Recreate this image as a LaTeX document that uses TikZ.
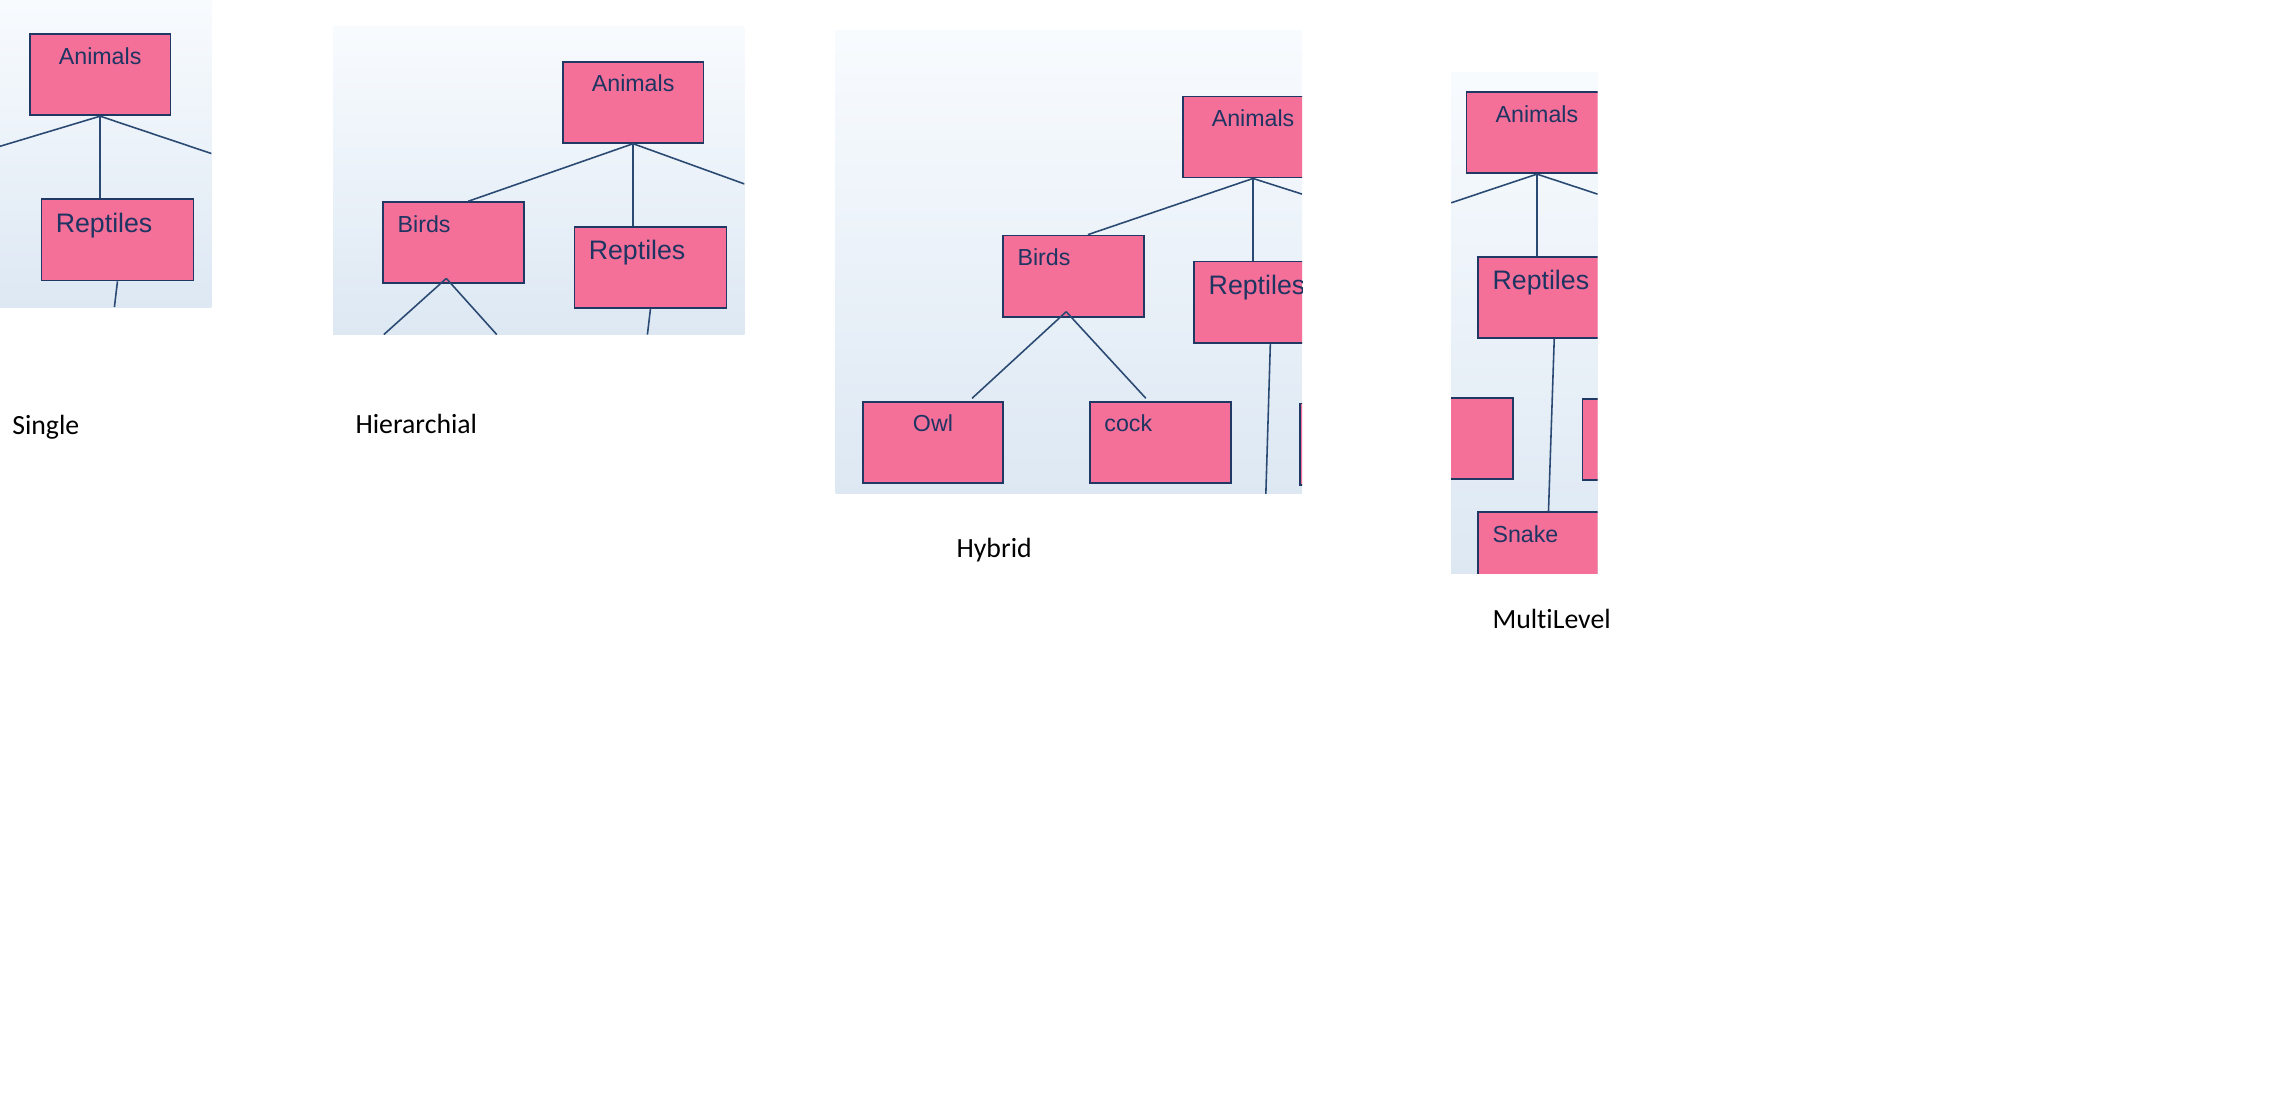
\documentclass[tikz,border=0pt]{standalone}
\usepackage{fontspec}
\usetikzlibrary{positioning,calc}
\newfontfamily\arialfont{Liberation Sans}
\newfontfamily\calfont[Ligatures=NoCommon]{Carlito}
\definecolor{boxpink}{RGB}{245,112,152}
\definecolor{boxline}{RGB}{31,56,100}
\definecolor{boxtext}{RGB}{30,52,98}
\definecolor{linkblue}{RGB}{43,74,115}
\definecolor{bgtop}{RGB}{248,251,254}
\definecolor{bgbot}{RGB}{221,232,243}
\tikzstyle{animalbox} = [draw=boxline, fill=boxpink, line width=0.5pt, inner sep=0pt, anchor=north west, minimum width=40pt, minimum height=23.07pt, text height=8.5pt, text depth=14.57pt, font=\arialfont\fontsize{6.6}{8}\selectfont, text=boxtext]
\tikzstyle{leftbox} = [animalbox, inner xsep=4.1pt, text width=31.8pt, align=left]
\tikzstyle{bigbox} = [leftbox, minimum width=43.26pt, text width=35.06pt, text height=9.3pt, text depth=13.77pt, font=\arialfont\fontsize{7.6}{9}\selectfont]
\tikzstyle{link} = [draw=linkblue, line width=0.45pt]
\tikzstyle{panelbg} = [top color=bgtop, bottom color=bgbot, draw=none]
\tikzstyle{caption} = [anchor=west, inner sep=0pt, font=\calfont\fontsize{7.9}{9.5}\selectfont]
\begin{document}
\begin{tikzpicture}[x=0.014483cm,y=-0.014483cm]
      \useasboundingbox (0,0) rectangle (1568,769);
      % Single
      \begin{scope}
      \clip (0,0) rectangle (146,212);
      \shade[panelbg] (0,0) rectangle (146,212);
      \node[animalbox] (sAnimals) at (20,23) {Animals};
      \node[bigbox] (sReptiles) at (28,137) {Reptiles};
      \coordinate (sL) at (0,101);
      \coordinate (sR) at (146,106);
      \coordinate (sD) at (79,212);
      \draw[link] (sAnimals.south)--(sL);
      \draw[link] (sAnimals.south)--(sR);
      \draw[link] (sAnimals.south)--(sAnimals.south |- sReptiles.north);
      \draw[link] (sReptiles.south)--(sD);
      \end{scope}
      % Hierarchial
      \begin{scope}
      \clip (230,18) rectangle (514,231);
      \shade[panelbg] (230,18) rectangle (514,231);
      \node[animalbox] (hAnimals) at (388,42) {Animals};
      \node[leftbox] (hBirds) at (264,139) {Birds};
      \node[bigbox] (hReptiles) at (396,156) {Reptiles};
      \coordinate (hR) at (514,127);
      \coordinate (hBL) at (265,231);
      \coordinate (hBR) at (343,231);
      \coordinate (hD) at (447,231);
      \draw[link] (hAnimals.south)--($(hBirds.north)+(10,0)$);
      \draw[link] (hAnimals.south)--(hAnimals.south |- hReptiles.north);
      \draw[link] (hAnimals.south)--(hR);
      \draw[link] ($(hBirds.south)+(-5,-4)$)--(hBL);
      \draw[link] ($(hBirds.south)+(-5,-4)$)--(hBR);
      \draw[link] (hReptiles.south)--(hD);
      \end{scope}
      % Hybrid
      \begin{scope}
      \clip (577,21) rectangle (899,341);
      \shade[panelbg] (577,21) rectangle (899,341);
      \node[animalbox] (yAnimals) at (816,66) {Animals};
      \node[leftbox] (yBirds) at (692,162) {Birds};
      \node[bigbox] (yReptiles) at (824,180) {Reptiles};
      \node[animalbox] (yOwl) at (595,277) {Owl};
      \node[leftbox] (yCock) at (752,277) {cock};
      \node[animalbox] (yExtra) at (897,278) {};
      \coordinate (yR) at (899,134);
      \coordinate (yD) at (874,341);
      \draw[link] (yAnimals.south)--($(yBirds.north)+(10,0)$);
      \draw[link] (yAnimals.south)--(yAnimals.south |- yReptiles.north);
      \draw[link] (yAnimals.south)--(yR);
      \draw[link] ($(yBirds.south)+(-5,-4)$)--($(yOwl.north)+(27,-2)$);
      \draw[link] ($(yBirds.south)+(-5,-4)$)--($(yCock.north)+(-10,-2)$);
      \draw[link] (yReptiles.south)--(yD);
      \end{scope}
      % MultiLevel
      \begin{scope}
      \clip (1002,50) rectangle (1103,396);
      \shade[panelbg] (1002,50) rectangle (1103,396);
      \node[animalbox] (mAnimals) at (1012,63) {Animals};
      \node[bigbox] (mReptiles) at (1020,177) {Reptiles};
      \node[animalbox] (mLeft) at (947,274) {};
      \node[animalbox] (mRight) at (1092,275) {};
      \node[leftbox] (mSnake) at (1020,353) {Snake};
      \coordinate (mL) at (1002,140);
      \coordinate (mR) at (1103,134);
      \draw[link] (mAnimals.south)--(mL);
      \draw[link] (mAnimals.south)--(mR);
      \draw[link] (mAnimals.south)--(mAnimals.south |- mReptiles.north);
      \draw[link] (mReptiles.south)--(mSnake.north);
      \end{scope}
      % captions
      \node[caption] (cSingle) at (8,295) {Single};
      \node[caption] (cHier) at (245,293) {Hierarchial};
      \node[caption] (cHybrid) at (660,380) {Hybrid};
      \node[caption] (cMulti) at (1030,427) {MultiLevel};
\end{tikzpicture}
\end{document}
